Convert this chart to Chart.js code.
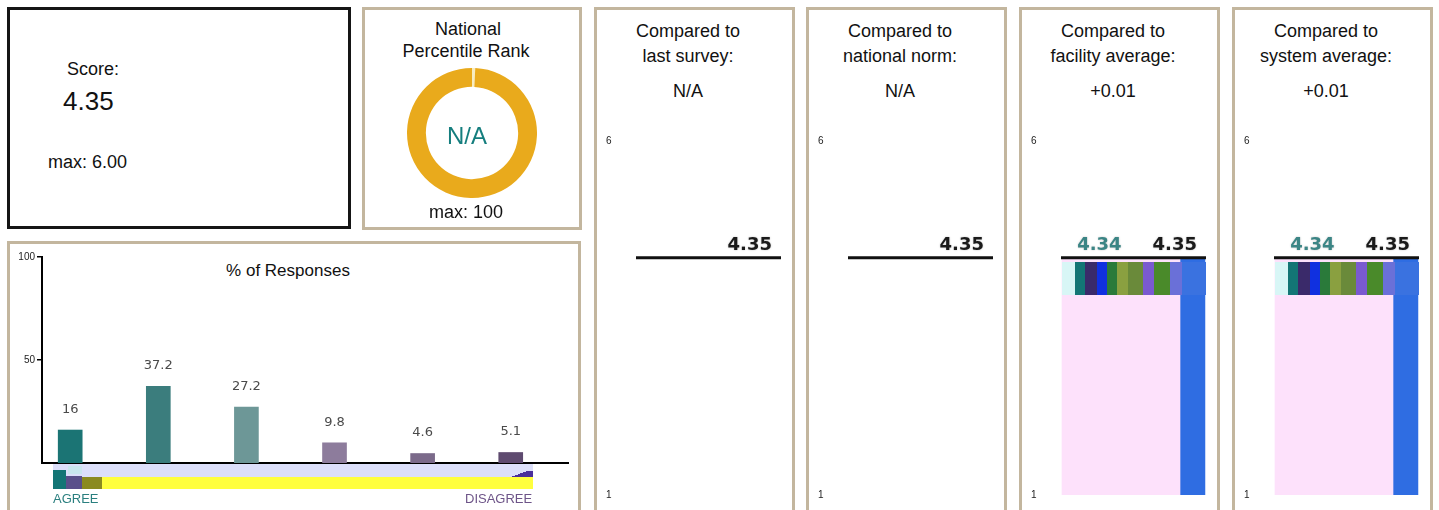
<!DOCTYPE html>
<html>
<head>
<meta charset="utf-8">
<script src="https://cdn.jsdelivr.net/npm/chart.js@4.4.1/dist/chart.umd.min.js"></script>
<style>
  body { margin: 0; width: 1439px; height: 510px; overflow: hidden; background: #fff; position: relative;
         font-family: "Liberation Sans", Arial, sans-serif; color: #111; }
  .box { position: absolute; box-sizing: border-box; border: 3px solid #c3b69e; }
  .txt { position: absolute; white-space: nowrap; }
  .mid { transform: translateX(-50%); }
  canvas { position: absolute; }
  .noise { position: absolute; height: 33px;
           background: linear-gradient(90deg, #d8f6f6 0 9%, #137575 9% 16%, #3a2a6a 16% 24%, #1030e0 24% 31%,
                       #2a7a3a 31% 38%, #8aa040 38% 46%, #6a8a3a 46% 56%, #7a5ad0 56% 64%, #4a8a2a 64% 75%, #6a70d8 75% 83%, #3a72e0 83% 100%); }
</style>
</head>
<body>

<!-- score box -->
<div class="box" style="left:7px;top:7px;width:344px;height:222px;border-color:#151515;"></div>
<div class="txt" style="left:67px;top:60px;font-size:18px;line-height:18px;">Score:</div>
<div class="txt" id="scoreText" style="left:63px;top:88px;font-size:26px;line-height:26px;"></div>
<div class="txt" id="scoreMaxText" style="left:48px;top:153px;font-size:18px;line-height:18px;"></div>

<!-- percentile rank -->
<div class="box" style="left:362px;top:7px;width:220px;height:223px;"></div>
<div class="txt mid" style="left:468px;top:20px;font-size:18px;line-height:18px;">National</div>
<div class="txt mid" style="left:466px;top:42px;font-size:18px;line-height:18px;">Percentile Rank</div>
<canvas id="chartRank" width="130" height="130" style="left:407px;top:68px;"></canvas>
<div class="txt mid" id="rankText" style="left:467px;top:124px;font-size:24px;line-height:24px;color:#157e7e;"></div>
<div class="txt mid" style="left:466px;top:203px;font-size:18px;line-height:18px;">max: 100</div>

<!-- % of responses -->
<div class="box" style="left:7px;top:241px;width:574px;height:290px;"></div>
<div class="txt mid" style="left:288px;top:262px;font-size:17px;line-height:17px;">% of Responses</div>
<canvas id="chartPct" width="568" height="231" style="left:10px;top:244px;"></canvas>
<div style="position:absolute;left:53px;top:464px;width:480px;height:13px;background:#dcdffa;"></div>
<div style="position:absolute;left:53px;top:477px;width:480px;height:12px;background:#ffff3e;"></div>
<div style="position:absolute;left:53px;top:470px;width:13px;height:19px;background:#137575;"></div>
<div style="position:absolute;left:66px;top:476px;width:16px;height:13px;background:#5a4f8a;"></div>
<div style="position:absolute;left:82px;top:477px;width:20px;height:12px;background:#8a8a20;"></div>
<div style="position:absolute;left:68px;top:466px;width:14px;height:8px;background:#c9e6ee;"></div>
<div style="position:absolute;left:505px;top:471px;width:28px;height:6px;background:linear-gradient(160deg,#dcdffa 50%,#4a2f9a 50%);"></div>
<div class="txt" style="left:53px;top:492px;font-size:13px;line-height:13px;color:#2a7f7f;">AGREE</div>
<div class="txt" style="left:465px;top:492px;font-size:13px;line-height:13px;color:#6d5488;">DISAGREE</div>

<div id="panels"></div>

<script>
// bar chart: share of responses, agree -> disagree
const pctLabels = ['Strongly agree', 'Agree', 'Slightly agree', 'Slightly disagree', 'Disagree', 'Strongly disagree'];
const pctValues = [16, 37.2, 27.2, 9.8, 4.6, 5.1];
const pctColors = ['#1b7474', '#3b7d7d', '#6d9797', '#8d7c9c', '#7b6a8a', '#5e4a6f'];
const pctTicks = [50, 100];

// score
const score = 4.35;
const scoreMax = 6.00;
const rankText = 'N/A';
const rankRing = [0.8, 99.2];

// comparison panels
const compareTitles = [
  ['Compared to', 'last survey:'],
  ['Compared to', 'national norm:'],
  ['Compared to', 'facility average:'],
  ['Compared to', 'system average:']
];
const compareDiffs = ['N/A', 'N/A', '+0.01', '+0.01'];
const compareAvgs = [null, null, 4.34, 4.34];
const compareTicks = [1, 6];
const panelLefts = [594, 806, 1019, 1232];

document.getElementById('scoreText').textContent = score.toFixed(2);
document.getElementById('scoreMaxText').textContent = 'max: ' + scoreMax.toFixed(2);
document.getElementById('rankText').textContent = rankText;

// doughnut for percentile rank
new Chart(document.getElementById('chartRank'), {
  type: 'doughnut',
  data: {
    labels: ['', 'rank'],
    datasets: [{ data: rankRing, backgroundColor: ['#f7ecc0', '#e9aa1c'], borderWidth: 0 }]
  },
  options: {
    responsive: false,
    animation: false,
    cutout: '71%',
    plugins: { legend: { display: false }, tooltip: { enabled: false } }
  }
});

// numbers above the bars
const valueLabels = {
  id: 'valueLabels',
  afterDatasetsDraw(chart) {
    const ctx = chart.ctx;
    ctx.save();
    ctx.font = '13px "DejaVu Sans"';
    ctx.fillStyle = '#4a4a4a';
    ctx.textAlign = 'center';
    ctx.textBaseline = 'bottom';
    chart.getDatasetMeta(0).data.forEach((bar, i) => {
      ctx.fillText(String(pctValues[i]), bar.x, bar.y - 14);
    });
    ctx.restore();
  }
};

new Chart(document.getElementById('chartPct'), {
  type: 'bar',
  data: {
    labels: pctLabels,
    datasets: [{
      data: pctValues.map((v, i) => ({ x: i, y: v })),
      backgroundColor: pctColors,
      barThickness: 24
    }]
  },
  options: {
    responsive: false,
    animation: false,
    layout: { padding: { top: 13, right: 10, bottom: 4, left: 0 } },
    plugins: { legend: { display: false }, tooltip: { enabled: false } },
    scales: {
      x: {
        type: 'linear', min: -0.32, max: 5.65, offset: false,
        ticks: { display: false },
        grid: { display: false },
        border: { color: '#000', width: 2 }
      },
      y: {
        min: 0, max: 100,
        afterBuildTicks: s => { s.ticks = pctTicks.map(v => ({ value: v })); },
        afterFit: s => { s.width = 32; },
        ticks: { padding: 2, color: '#222', font: { size: 10, family: 'Liberation Sans' } },
        grid: { drawOnChartArea: false, tickLength: 5, color: '#000', lineWidth: 1.5 },
        border: { color: '#000', width: 2 }
      }
    }
  },
  plugins: [valueLabels]
});

// bold value labels over the score line
const lineLabels = {
  id: 'lineLabels',
  afterDatasetsDraw(chart) {
    const avg = chart.options.plugins.lineLabels.avg;
    const ctx = chart.ctx;
    const y = chart.scales.y.getPixelForValue(score);
    const right = chart.chartArea.right - 9;
    ctx.save();
    ctx.font = 'bold 18px "DejaVu Sans"';
    ctx.textAlign = 'right';
    ctx.textBaseline = 'alphabetic';
    ctx.shadowColor = 'rgba(0,0,0,0.25)';
    ctx.shadowBlur = 2;
    ctx.fillStyle = '#1a1a1a';
    const s = score.toFixed(2);
    ctx.fillText(s, right, y - 8);
    if (avg !== null) {
      ctx.fillStyle = '#3b8585';
      ctx.fillText(avg.toFixed(2), right - ctx.measureText(s).width - 31, y - 8);
    }
    ctx.restore();
  }
};

const host = document.getElementById('panels');
panelLefts.forEach((x0, i) => {
  const box = document.createElement('div');
  box.className = 'box';
  box.style.cssText = `left:${x0}px;top:7px;width:201px;height:520px;`;
  host.appendChild(box);

  const lines = compareTitles[i].concat([compareDiffs[i]]);
  const tops = [22, 47, 82];
  lines.forEach((t, k) => {
    const d = document.createElement('div');
    d.className = 'txt mid';
    d.style.cssText = `left:${x0 + 94}px;top:${tops[k]}px;font-size:18px;line-height:18px;`;
    d.textContent = t;
    host.appendChild(d);
  });

  const cv = document.createElement('canvas');
  cv.width = 195; cv.height = 390;
  cv.style.cssText = `left:${x0 + 3}px;top:120px;`;
  host.appendChild(cv);

  const avg = compareAvgs[i];
  const datasets = [{
    type: 'line',
    data: [{ x: 0, y: score }, { x: 1, y: score }],
    xAxisID: 'xl',
    borderColor: '#111',
    borderWidth: 3,
    pointRadius: 0
  }];
  if (avg !== null) {
    datasets.push({ type: 'bar', data: [{ x: 0, y: avg }], xAxisID: 'x',
      backgroundColor: '#fde1fb', barThickness: 118, grouped: false });
    datasets.push({ type: 'bar', data: [{ x: 1, y: score }], xAxisID: 'x',
      backgroundColor: '#2f6de2', barThickness: 25, grouped: false });
    // scrambled image strip sitting under the line in the original
    const n = document.createElement('div');
    n.className = 'noise';
    n.style.cssText = `left:${x0 + 43}px;top:262px;width:144px;`;
    host.appendChild(n);
  }

  new Chart(cv, {
    type: 'bar',
    data: { datasets },
    options: {
      responsive: false,
      animation: false,
      layout: { padding: { top: 21, right: 11, bottom: 15, left: 9 } },
      plugins: { legend: { display: false }, tooltip: { enabled: false }, lineLabels: { avg } },
      scales: {
        x: { type: 'linear', min: -0.84, max: 1.19, offset: false, display: false },
        xl: { type: 'linear', min: 0, max: 1, offset: false, display: false },
        y: {
          min: 1, max: 6,
          afterBuildTicks: s => { s.ticks = compareTicks.map(v => ({ value: v })); },
          afterFit: s => { s.width = 30; },
          ticks: { crossAlign: 'far', padding: 0, color: '#222', font: { size: 10, family: 'Liberation Sans' } },
          grid: { display: false },
          border: { display: false }
        }
      }
    },
    plugins: [lineLabels]
  });
});
</script>
</body>
</html>
